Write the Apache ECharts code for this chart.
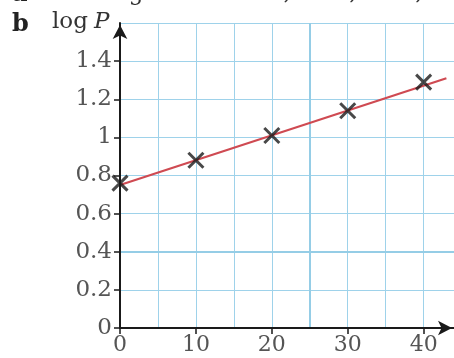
<!DOCTYPE html>
<html><head><meta charset="utf-8">
<script src="https://cdn.jsdelivr.net/npm/echarts@6/dist/echarts.min.js"></script>
<style>html,body{margin:0;padding:0;background:#fff}#c{width:454px;height:358px}</style>
</head><body><div id="c"></div>
<script>
// data
const pointX = [0, 10, 20, 30, 40];
const logP = [0.76, 0.88, 1.01, 1.14, 1.29];
const fitX = [0, 43];
const fitY = [0.75, 1.31];
const xTickLabels = [0, 10, 20, 30, 40];
const yTickLabels = [0, 0.2, 0.4, 0.6, 0.8, 1, 1.2, 1.4];

const serif = '"DejaVu Serif", serif';
const gridColor = '#9ed2ea';
const chart = echarts.init(document.getElementById('c'), null, {renderer: 'canvas'});
const hiddenParts = {axisLine: {show: false}, axisTick: {show: false}, axisLabel: {show: false}};
chart.setOption({
  animation: false,
  backgroundColor: '#fff',
  grid: {left: 120, top: 23, width: 335.5, height: 305},
  xAxis: [{
    type: 'value', min: 0, max: 44, interval: 10, z: 10,
    axisLine: {onZero: true, lineStyle: {color: '#1a1a1a', width: 2}, symbol: ['none', 'arrow'], symbolSize: [11, 14], symbolOffset: [0, -2]},
    axisTick: {show: true, length: 6, inside: false, lineStyle: {color: '#1a1a1a', width: 1.5}, customValues: xTickLabels},
    axisLabel: {customValues: xTickLabels, color: '#555', fontFamily: serif, fontSize: 22, margin: 6},
    splitLine: {show: false}
  }, Object.assign({
    type: 'value', min: 0, max: 44, interval: 5, position: 'top',
    splitLine: {show: true, lineStyle: {color: gridColor, width: 1}}
  }, hiddenParts)],
  yAxis: [{
    type: 'value', min: 0, max: 1.6, interval: 0.2, z: 10,
    axisLine: {onZero: true, lineStyle: {color: '#1a1a1a', width: 2}, symbol: ['none', 'arrow'], symbolSize: [11, 14], symbolOffset: [0, -2]},
    axisTick: {show: true, length: 6, lineStyle: {color: '#1a1a1a', width: 1.5}, customValues: yTickLabels},
    axisLabel: {customValues: yTickLabels, color: '#555', fontFamily: serif, fontSize: 23, margin: 8,
      formatter: v => String(+(+v).toFixed(1))},
    splitLine: {show: false}
  }, Object.assign({
    type: 'value', min: 0, max: 1.6, interval: 0.2, position: 'right',
    splitLine: {show: true, lineStyle: {color: gridColor, width: 1}}
  }, hiddenParts)],
  graphic: [
    {type: 'text', left: 12, top: 13, style: {text: 'b', font: 'bold 24px "DejaVu Serif", serif', fill: '#222'}},
    {type: 'text', left: 52, top: 11, style: {text: 'log', font: '23px "DejaVu Serif", serif', fill: '#333'}},
    {type: 'text', left: 94, top: 11, style: {text: 'P', font: 'italic 23px "DejaVu Serif", serif', fill: '#333'}},
    {type: 'text', left: 12, top: -17, style: {text: 'a', font: 'bold 24px "DejaVu Serif", serif', fill: '#222'}},
    {type: 'text', left: 52, top: -17, style: {text: 'Missing values 0.88, 1.01, 1.14, 1.29', font: '23px "DejaVu Serif", serif', fill: '#333'}}
  ],
  series: [
    {
      type: 'line', data: fitX.map((x, i) => [x, fitY[i]]), showSymbol: false,
      lineStyle: {color: '#cf4a52', width: 2.2}, z: 3,
      markLine: {silent: true, symbol: 'none', label: {show: false},
        lineStyle: {color: '#95cde6', width: 2, type: 'solid'},
        data: [{xAxis: 25}, {yAxis: 0.4}], z: 1}
    },
    {
      type: 'scatter', data: pointX.map((x, i) => [x, logP[i]]),
      symbol: 'path://M0,0L10,10M10,0L0,10', symbolSize: 15,
      itemStyle: {color: 'none', borderColor: '#1a1a1a', borderWidth: 3}, z: 5
    }
  ]
});
</script></body></html>
